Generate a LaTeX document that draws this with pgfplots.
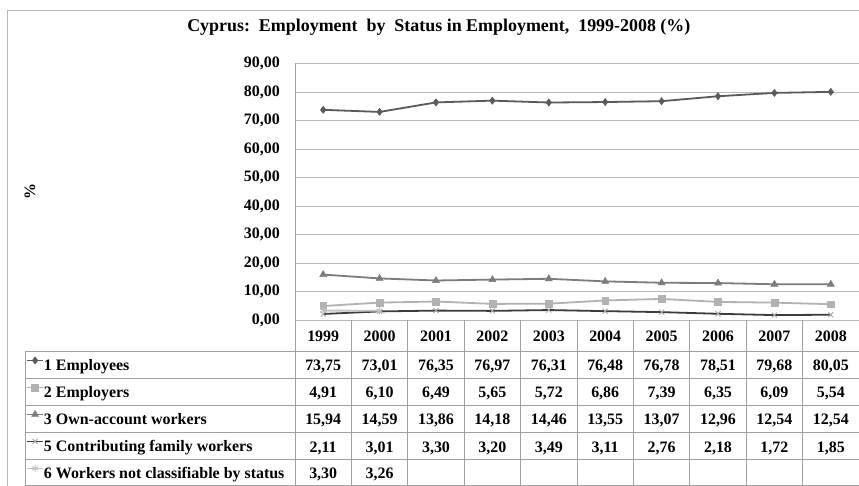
\documentclass[border=0pt]{standalone}
\usepackage{fontspec}
\setmainfont{Liberation Serif}
\usepackage{pgfplots}
\pgfplotsset{compat=1.18}
\definecolor{sA}{HTML}{5A5A5A}
\definecolor{sB}{HTML}{B2B2B2}
\definecolor{sC}{HTML}{7C7C7C}
\definecolor{sD}{HTML}{3C3C3C}
\definecolor{sDm}{HTML}{A8A8A8}
\definecolor{sE}{HTML}{C4C4C4}
\definecolor{gridc}{HTML}{B8B8B8}
\definecolor{tblc}{HTML}{A0A0A0}
\newcommand{\tf}{\bfseries\fontsize{16}{18}\selectfont}
\begin{document}
\begin{tikzpicture}
\useasboundingbox (0,0) rectangle (859bp,486bp);
\fill[white] (0,0) rectangle (859bp,486bp);
\draw[gridc, line width=1bp] (7bp,-5bp) -- (7bp,475bp) -- (870bp,475bp);
\begin{axis}[
  at={(295bp,166bp)}, anchor=south west,
  scale only axis, width=564bp, height=256.5bp,
  xmin=-0.5, xmax=9.5, ymin=0, ymax=90,
  clip=false,
  axis line style={draw=none},
  major tick length=0pt,
  ytick={0,10,...,90},
  ymajorgrids, grid style={gridc, line width=0.9bp},
  xtick={0,...,9},
  xticklabels={1999,2000,2001,2002,2003,2004,2005,2006,2007,2008},
  xticklabel style={font=\tf, anchor=base, inner sep=0pt, yshift=-21.4bp},
  yticklabel style={font=\tf, inner sep=0pt, xshift=-15bp},
  /pgf/number format/.cd, fixed, fixed zerofill, precision=2, use comma, assume math mode=true,
  /pgfplots/.cd,
  title={Cyprus:\ \ Employment\ \ by\ \ Status in Employment,\ \ 1999-2008 (\%)},
  title style={font=\bfseries\fontsize{18}{20}\selectfont, at={(axis description cs:0.255,1)}, anchor=center, yshift=30bp},
  ylabel={\%},
  ylabel style={font=\tf, at={([xshift=-265bp]axis description cs:0,0.5)}, anchor=center},
  legend cell align=left,
  legend style={at={(axis description cs:0,0)}, anchor=north west, xshift=-269bp, yshift=-31.7bp,
    draw=none, fill=none, inner sep=0pt, row sep=0pt, column sep=0pt,
    nodes={inner sep=0pt, text height=19bp, text depth=8bp, font=\tf}},
  legend image code/.code={\draw[mark repeat=2,mark phase=2] plot coordinates {(0bp,5bp)(8bp,5bp)(16bp,5bp)};},
]
\addplot[sA, line width=1.8bp, mark=diamond*, mark size=3.6bp, mark options={solid, fill=sA, line width=0.5bp}]
  coordinates {(0,73.75)(1,73.01)(2,76.35)(3,76.97)(4,76.31)(5,76.48)(6,76.78)(7,78.51)(8,79.68)(9,80.05)};
\addlegendentry{1 Employees}
\addplot[sB, line width=1.8bp, mark=square*, mark size=3.4bp, mark options={fill=sB, line width=0.5bp}]
  coordinates {(0,4.91)(1,6.10)(2,6.49)(3,5.65)(4,5.72)(5,6.86)(6,7.39)(7,6.35)(8,6.09)(9,5.54)};
\addlegendentry{2 Employers}
\addplot[sC, line width=1.8bp, mark=triangle*, mark size=4bp, mark options={fill=sC, line width=0.5bp}]
  coordinates {(0,15.94)(1,14.59)(2,13.86)(3,14.18)(4,14.46)(5,13.55)(6,13.07)(7,12.96)(8,12.54)(9,12.54)};
\addlegendentry{3 Own-account workers}
\addplot[sD, line width=1.8bp, mark=x, mark size=3.6bp, mark options={sDm, line width=0.9bp}]
  coordinates {(0,2.11)(1,3.01)(2,3.30)(3,3.20)(4,3.49)(5,3.11)(6,2.76)(7,2.18)(8,1.72)(9,1.85)};
\addlegendentry{5 Contributing family workers}
\addplot[sE, line width=1.8bp, mark=asterisk, mark size=3.6bp, mark options={sE, line width=0.9bp}]
  coordinates {(0,3.30)(1,3.26)};
\addlegendentry{6 Workers not classifiable by status}
\end{axis}
% data table grid
\begin{scope}[tblc, line width=0.9bp]
\draw (295bp,422.5bp) -- (295bp,0bp);
\foreach \k in {1,...,10} \draw ({(295+56.4*\k)*1bp},166bp) -- ({(295+56.4*\k)*1bp},0bp);
\draw (25bp,134.5bp) -- (25bp,0bp);
\foreach \yy in {134.5,107.5,80.5,53.5,26.5,0.5} \draw (25bp,\yy bp) -- (870bp,\yy bp);
\end{scope}
% data table values
\def\rowtext#1#2{%
  \foreach \v [count=\i from 0] in {#2} {%
    \node[font=\tf, anchor=base, inner sep=0pt] at ({(295+56.4*\i+28.2)*1bp},#1 bp) {\v};
  }}
\rowtext{115}{73{,}75,73{,}01,76{,}35,76{,}97,76{,}31,76{,}48,76{,}78,78{,}51,79{,}68,80{,}05}
\rowtext{88}{4{,}91,6{,}10,6{,}49,5{,}65,5{,}72,6{,}86,7{,}39,6{,}35,6{,}09,5{,}54}
\rowtext{61}{15{,}94,14{,}59,13{,}86,14{,}18,14{,}46,13{,}55,13{,}07,12{,}96,12{,}54,12{,}54}
\rowtext{34}{2{,}11,3{,}01,3{,}30,3{,}20,3{,}49,3{,}11,2{,}76,2{,}18,1{,}72,1{,}85}
\rowtext{7.6}{3{,}30,3{,}26}
\end{tikzpicture}
\end{document}
